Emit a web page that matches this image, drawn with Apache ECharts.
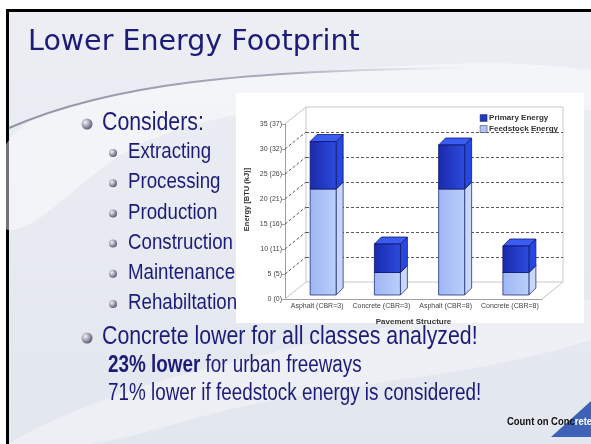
<!DOCTYPE html>
<html>
<head>
<meta charset="utf-8">
<script src="https://cdn.jsdelivr.net/npm/echarts@6/dist/echarts.min.js"></script>
<style>
html, body { margin: 0; padding: 0; background: #fff; }
#main { width: 591px; height: 444px; }
</style>
</head>
<body>
<div id="main"></div>
<script>
// chart data
const categories = ['Asphalt (CBR=3)', 'Concrete (CBR=3)', 'Asphalt (CBR=8)', 'Concrete (CBR=8)'];
const feedstock = [21.2, 4.5, 21.2, 4.5];
const primary = [9.5, 5.7, 8.8, 5.3];
const yTicks = [0, 5, 10, 15, 20, 25, 30, 35];
const yTickLabels = ['0 (0)', '5 (5)', '10 (11)', '15 (16)', '20 (21)', '25 (26)', '30 (32)', '35 (37)'];

// slide text
const title = 'Lower Energy Footprint';
const considers = 'Considers:';
const steps = ['Extracting', 'Processing', 'Production', 'Construction', 'Maintenance', 'Rehabiltation'];

const SANS = '"Liberation Sans", Arial, sans-serif';
const NARROW_X = 0.82;            // Liberation Sans squeezed to look like Arial Narrow
const NAVY = '#1c1c78';
const DX = 21, DY = -17;          // depth of the floor / back wall
const BAR_X = -7, BAR_W = 26, BAR_LIFT = -4, BAR_D = 7;

const chart = echarts.init(document.getElementById('main'));

function wallLines(params, api) {
  const cs = params.coordSys;
  const v = api.value(1);
  const y = api.coord([0, v])[1];
  const edge = v === 0 || v === 35;
  const kids = [{
    type: 'line',
    shape: { x1: cs.x, y1: y, x2: cs.x + DX, y2: y + DY },
    style: { stroke: edge ? '#c4c4c4' : '#5a5a5a', lineWidth: 1, lineDash: edge ? null : [3, 2] }
  }];
  if (v === 0) {
    kids.push({
      type: 'line',
      shape: { x1: cs.x + cs.width, y1: y, x2: cs.x + cs.width + DX, y2: y + DY },
      style: { stroke: '#c4c4c4', lineWidth: 1 }
    });
  }
  return { type: 'group', children: kids };
}

function makeBox(front, side, top, stroke) {
  return function (params, api) {
    const i = api.value(0);
    const lo = api.coord([i, api.value(1)]);
    const hi = api.coord([i, api.value(2)]);
    const x0 = lo[0] + BAR_X, x1 = x0 + BAR_W;
    const yb = lo[1] + BAR_LIFT, yt = hi[1] + BAR_LIFT;
    const st = { stroke: stroke, lineWidth: 0.8 };
    return {
      type: 'group',
      children: [
        { type: 'polygon', shape: { points: [[x1, yb], [x1 + BAR_D, yb - BAR_D], [x1 + BAR_D, yt - BAR_D], [x1, yt]] },
          style: Object.assign({ fill: side }, st) },
        { type: 'polygon', shape: { points: [[x0, yt], [x1, yt], [x1 + BAR_D, yt - BAR_D], [x0 + BAR_D, yt - BAR_D]] },
          style: Object.assign({ fill: top }, st) },
        { type: 'rect', shape: { x: x0, y: yt, width: BAR_W, height: yb - yt },
          style: Object.assign({ fill: front }, st) }
      ]
    };
  };
}

const grad = (a, b) => new echarts.graphic.LinearGradient(0, 0, 1, 0, [{ offset: 0, color: a }, { offset: 1, color: b }]);
const ball = () => new echarts.graphic.RadialGradient(0.35, 0.35, 0.75, [{ offset: 0, color: '#f2f2f8' }, { offset: 1, color: '#4b4b66' }]);

// narrow text line (real text, squeezed horizontally)
function line(x, y, text, size, rich) {
  return { type: 'text', z: 10, x: x, y: y, scaleX: NARROW_X,
    style: { x: 0, y: 0, text: text, font: size + 'px ' + SANS, fill: NAVY, verticalAlign: 'middle', rich: rich } };
}

const feedData = categories.map((c, i) => [i, 0, feedstock[i]]);
const primData = categories.map((c, i) => [i, feedstock[i], feedstock[i] + primary[i]]);

const graphics = [
  { type: 'rect', z: -20, shape: { x: 7.5, y: 10.5, width: 600, height: 450 },
    style: { fill: new echarts.graphic.LinearGradient(0, 0, 0, 1, [{ offset: 0, color: '#eceef4' }, { offset: 1, color: '#e2e6ee' }]),
      stroke: '#000', lineWidth: 3 } },
  { type: 'polygon', z: -19, shape: { smooth: 0.4, points: [[9, 140], [120, 95], [300, 72], [591, 70], [591, 110], [330, 105], [150, 140], [9, 230]] },
    style: { fill: 'rgba(255,255,255,0.45)' } },
  { type: 'bezierCurve', z: -18, shape: { x1: 9, y1: 128, cpx1: 110, cpy1: 84, cpx2: 240, cpy2: 70, x2: 470, y2: 68 },
    style: { fill: null, lineWidth: 2,
      stroke: new echarts.graphic.LinearGradient(0, 0, 1, 0, [{ offset: 0, color: '#8e93a6' }, { offset: 0.6, color: '#a7abba' }, { offset: 1, color: 'rgba(200,204,214,0)' }]) } },
  { type: 'polygon', z: -19, shape: { smooth: 0.4, points: [[9, 444], [200, 370], [591, 300], [591, 340], [250, 405], [90, 444]] },
    style: { fill: 'rgba(255,255,255,0.35)' } },
  { type: 'rect', z: -5, shape: { x: 236, y: 93, width: 348, height: 230 }, style: { fill: '#fff' } },

  { type: 'text', z: 10, style: { x: 28, y: 43, text: title, font: '28.5px "DejaVu Sans", sans-serif', fill: NAVY, verticalAlign: 'middle' } },

  { type: 'circle', z: 10, shape: { cx: 87, cy: 124, r: 5.5 }, style: { fill: ball() } },
  line(102, 123, considers, 26),

  { type: 'circle', z: 10, shape: { cx: 87, cy: 338, r: 5.5 }, style: { fill: ball() } },
  line(102, 337, 'Concrete lower for all classes analyzed!', 26),
  line(108, 366, '{b|23% lower} for urban freeways', 23,
    { b: { font: 'bold 23px ' + SANS, fill: NAVY } }),
  line(108, 394, '71% lower if feedstock energy is considered!', 23),

  { type: 'polygon', z: 10, shape: { points: [[591, 401], [591, 437], [551, 437]] }, style: { fill: '#3d62b8' } },
  { type: 'text', z: 11, x: 507, y: 422, scaleX: 0.9,
    style: { x: 0, y: 0, text: '{a|Count on Conc}{w|rete}', verticalAlign: 'middle',
      rich: { a: { font: 'bold 10.5px ' + SANS, fill: '#111', textStroke: '#111', textStrokeWidth: 0.5 },
              w: { font: 'bold 10.5px ' + SANS, fill: '#fff' } } } }
];

steps.forEach((s, k) => {
  const y = 152 + k * 30.2;
  graphics.push({ type: 'circle', z: 10, shape: { cx: 113, cy: y + 1, r: 4 }, style: { fill: ball() } });
  graphics.push(line(128, y, s, 22.8));
});

const option = {
  animation: false,
  textStyle: { fontFamily: SANS },
  graphic: graphics,
  legend: {
    data: ['Primary Energy', 'Feedstock Energy'],
    orient: 'vertical', right: 28, top: 109,
    itemWidth: 7, itemHeight: 7, itemGap: 3, icon: 'rect',
    itemStyle: { borderColor: '#333', borderWidth: 0.5 },
    textStyle: { fontSize: 8, fontWeight: 'bold', color: '#333', padding: [0, 0, 0, -3] }
  },
  grid: [
    { left: 285, top: 124, width: 257, height: 175 },
    { left: 306, top: 107, width: 257, height: 175, show: true, borderColor: '#c8c8c8', borderWidth: 1, backgroundColor: 'transparent' }
  ],
  xAxis: [
    { type: 'category', gridIndex: 0, data: categories,
      axisLine: { lineStyle: { color: '#a0a0a0' } },
      axisTick: { length: 3, lineStyle: { color: '#a0a0a0' } },
      axisLabel: { fontSize: 7, color: '#444', margin: 4, interval: 0 },
      name: 'Pavement Structure', nameLocation: 'middle', nameGap: 19,
      nameTextStyle: { fontSize: 8, fontWeight: 'bold', color: '#333' } },
    { type: 'category', gridIndex: 1, data: categories, show: false }
  ],
  yAxis: [
    { type: 'value', gridIndex: 0, min: 0, max: 35, interval: 5,
      axisLine: { show: true, lineStyle: { color: '#a0a0a0' } },
      axisTick: { show: true, length: 3, lineStyle: { color: '#a0a0a0' } },
      splitLine: { show: false },
      axisLabel: { fontSize: 7, color: '#444', margin: 3, formatter: v => yTickLabels[yTicks.indexOf(v)] },
      name: 'Energy [BTU (kJ)]', nameLocation: 'middle', nameGap: 34, nameRotate: 90,
      nameTextStyle: { fontSize: 7.5, fontWeight: 'bold', color: '#333', padding: [0, 0, 0, 24] } },
    { type: 'value', gridIndex: 1, min: 0, max: 35, interval: 5,
      axisLine: { show: false }, axisTick: { show: false }, axisLabel: { show: false },
      splitLine: { show: true, showMinLine: false, showMaxLine: false, lineStyle: { color: '#5a5a5a', type: [3, 2] } } }
  ],
  series: [
    { type: 'custom', name: 'walls', xAxisIndex: 0, yAxisIndex: 0, silent: true, z: 1,
      data: yTicks.map(v => [0, v]), encode: { x: 0, y: 1 }, renderItem: wallLines },
    { type: 'custom', name: 'Feedstock Energy', xAxisIndex: 0, yAxisIndex: 0, z: 3,
      itemStyle: { color: '#aec3f8' },
      data: feedData, encode: { x: 0, y: [1, 2] },
      renderItem: makeBox(grad('#9db6f3', '#bccffb'), '#c8d7fd', '#d6e1ff', '#27307a') },
    { type: 'custom', name: 'Primary Energy', xAxisIndex: 0, yAxisIndex: 0, z: 4,
      itemStyle: { color: '#1f37cc' },
      data: primData, encode: { x: 0, y: [1, 2] },
      renderItem: makeBox(grad('#1a2aaa', '#2c4be0'), '#2747e2', '#3a5cf2', '#10186a') }
  ]
};

chart.setOption(option);
</script>
</body>
</html>
